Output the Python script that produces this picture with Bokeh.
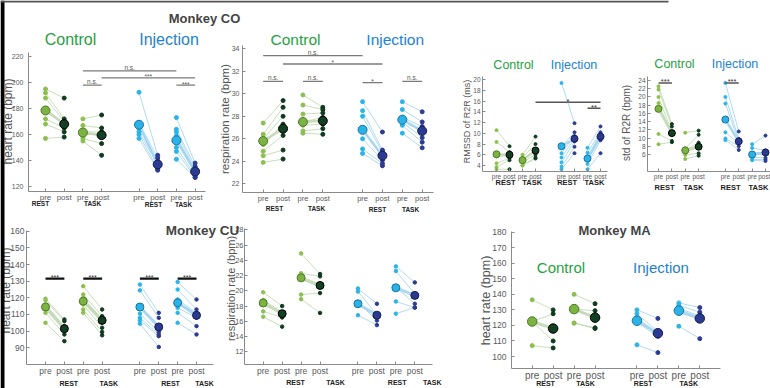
import numpy as np
from bokeh.plotting import figure
from bokeh.models import Range1d, FixedTicker, ColumnDataSource, Label, BoxAnnotation
from bokeh.layouts import column
from bokeh.embed import file_html
from bokeh.resources import INLINE

# ---------------- DATA ----------------
tick_labels = ["pre", "post", "pre", "post", "pre", "post", "pre", "post"]
block_labels = ["REST", "TASK", "REST", "TASK"]
group_labels = ["Control", "Injection"]
titles = ["Monkey CO", "Monkey CU", "Monkey MA"]

# Monkey CO - heart rate (bpm)
co_hr_ctrl_rest_pre = [195, 192, 188, 180, 172, 168, 157]
co_hr_ctrl_rest_post = [188, 172, 170, 168, 165, 162, 158]
co_hr_ctrl_task_pre = [172, 167, 162, 160, 157, 155]
co_hr_ctrl_task_post = [175, 165, 162, 160, 153, 144]
co_hr_inj_rest_pre = [192.5, 169, 165, 162, 160, 157]
co_hr_inj_rest_post = [144, 142, 139.5, 137, 133.5, 132.5]
co_hr_inj_task_pre = [173, 164, 162, 159, 157.5, 150, 147, 141]
co_hr_inj_task_post = [138, 135.5, 133, 131.5, 130, 128.5, 127, 127]
co_hr_means = [178.5, 168, 161.5, 159.5, 167.5, 137, 155.5, 131.5]
co_hr_yticks = [120, 140, 160, 180, 200, 220]
co_hr_sig = [(3, 8, 209, "n.s."), (4, 9, 203.5, "***"), (3, 4, 198, "n.s."), (8, 9, 198, "***")]

# Monkey CO - respiration rate (bpm)
co_rr_ctrl_rest_pre = [27.4, 26.4, 26.0, 25.5, 24.9, 24.5, 23.9]
co_rr_ctrl_rest_post = [29.4, 28.8, 28.0, 27.3, 26.3, 25.0, 24.2]
co_rr_ctrl_task_pre = [29.9, 29.0, 28.2, 27.5, 27.2, 26.7, 26.5]
co_rr_ctrl_task_post = [28.8, 28.6, 28.3, 27.9, 27.3, 26.9, 26.4]
co_rr_inj_rest_pre = [29.3, 28.5, 28.0, 26.8, 26.0, 25.1, 24.7]
co_rr_inj_rest_post = [26.6, 25.0, 24.8, 24.5, 24.1, 23.8, 23.6]
co_rr_inj_task_pre = [29.3, 28.6, 27.9, 27.7, 27.5, 27.2, 26.5]
co_rr_inj_task_post = [28.4, 27.5, 27.1, 26.6, 26.1, 25.7, 25.2]
co_rr_means = [25.8, 26.9, 27.5, 27.6, 26.8, 24.5, 27.7, 26.7]
co_rr_yticks = [22, 24, 26, 28, 30, 32, 34]
co_rr_sig = [(1, 6, 33.4, "n.s."), (2, 7, 32.65, "*"), (1, 2, 31.1, "n.s."),
             (3, 4, 31.1, "n.s."), (6, 7, 31.0, "*"), (8, 9, 31.1, "n.s.")]

# Monkey CO - RMSSD of R2R (ms)
co_rmssd_ctrl_rest_pre = [10.6, 8.4, 5.7, 4.4, 3.7, 3.3]
co_rmssd_ctrl_rest_post = [7.6, 6.5, 5.8, 5.4, 5.0, 3.3]
co_rmssd_ctrl_task_pre = [6.0, 5.5, 5.0, 4.6, 4.0, 4.0]
co_rmssd_ctrl_task_post = [9.4, 8.0, 7.0, 6.0, 5.5, 5.3]
co_rmssd_inj_rest_pre = [19.4, 7.5, 6.3, 5.5, 4.6, 3.8, 3.3]
co_rmssd_inj_rest_post = [11.9, 10.2, 9.5, 9.0, 8.5, 7.5, 6.3]
co_rmssd_inj_task_pre = [7.3, 6.4, 5.7, 5.0, 4.3, 3.3]
co_rmssd_inj_task_post = [11.3, 10.2, 9.8, 9.3, 8.7, 6.3]
co_rmssd_means = [6.1, 6.0, 5.0, 6.8, 7.6, 9.0, 5.3, 9.4]
co_rmssd_yticks = [4, 6, 8, 10, 12, 14, 16, 18, 20]
co_rmssd_sig = [(4, 9, 15.8, "*"), (8, 9, 14.7, "**")]

# Monkey CO - std of R2R (bpm)
co_std_ctrl_rest_pre = [22.6, 21.8, 20.0, 18.5, 11.0, 8.5]
co_std_ctrl_rest_post = [13.4, 12.8, 11.5, 10.8, 9.3, 9.0]
co_std_ctrl_task_pre = [11.3, 7.5, 7.0, 6.5, 5.9, 4.9]
co_std_ctrl_task_post = [11.8, 10.8, 8.9, 7.9, 6.3, 5.7]
co_std_inj_rest_pre = [23.4, 20.0, 18.4, 14.4, 11.4, 9.9, 9.5]
co_std_inj_rest_post = [11.6, 9.8, 9.2, 9.0, 8.7, 8.0, 7.1]
co_std_inj_task_pre = [8.5, 7.6, 6.4, 6.0, 5.3, 4.8, 4.6]
co_std_inj_task_post = [10.6, 7.0, 6.5, 6.0, 5.2, 4.8, 4.4]
co_std_means = [17.1, 11.2, 7.0, 7.9, 14.5, 9.2, 6.0, 6.5]
co_std_yticks = [6, 8, 10, 12, 14, 16, 18, 20, 22, 24]
co_std_sig = [(1, 2, 23.4, "***"), (6, 7, 23.4, "***")]

# Monkey CU - heart rate (bpm)
cu_hr_ctrl_rest_pre = [119.5, 118.5, 116, 113, 111, 105]
cu_hr_ctrl_rest_post = [107, 106, 103, 101, 98, 94]
cu_hr_ctrl_task_pre = [127, 122, 120, 118, 116, 113, 111]
cu_hr_ctrl_task_post = [113, 109, 107, 105, 102, 99.5, 97.5]
cu_hr_inj_rest_pre = [128, 124.5, 115, 110.5, 108, 106.5, 104.5]
cu_hr_inj_rest_post = [111, 108, 103, 99.5, 98, 97, 90.5]
cu_hr_inj_task_pre = [129.5, 125, 119, 117, 114, 111, 105]
cu_hr_inj_task_post = [119, 113, 111, 110, 108, 103, 98]
cu_hr_means = [114.5, 101.5, 118, 106.5, 114.5, 102.5, 117, 109.5]
cu_hr_yticks = [90, 100, 110, 120, 130, 140, 150, 160]
cu_hr_sig = [(1, 2, 131.5, "***"), (3, 4, 131.5, "***"), (6, 7, 131.5, "***"), (8, 9, 131.5, "***")]

# Monkey CU - respiration rate (bpm)
cu_rr_ctrl_rest_pre = [19.8, 18.8, 17.3, 16.6]
cu_rr_ctrl_rest_post = [18.0, 17.2, 16.5, 15.3]
cu_rr_ctrl_task_pre = [24.9, 22.3, 21.5, 19.5, 18.9]
cu_rr_ctrl_task_post = [22.2, 21.9, 20.5, 19.7, 17.1]
cu_rr_inj_rest_pre = [20.3, 19.9, 18.5, 16.8]
cu_rr_inj_rest_post = [18.3, 16.9, 16.1, 15.5]
cu_rr_inj_task_pre = [23.2, 22.6, 20.5, 18.6, 17.0]
cu_rr_inj_task_post = [21.1, 19.6, 18.3, 17.8, 17.8]
cu_rr_means = [18.4, 17.0, 21.7, 20.7, 18.3, 16.8, 20.4, 19.4]
cu_rr_yticks = [12, 14, 16, 18, 20, 22, 24, 26, 28]

# Monkey MA - heart rate (bpm)
ma_hr_ctrl_rest_pre = [136.5, 122.5, 122.5, 107]
ma_hr_ctrl_rest_post = [130, 127.5, 110, 105.5]
ma_hr_ctrl_task_pre = [140, 130.5, 130.5, 121.5, 121.5]
ma_hr_ctrl_task_post = [134, 129.5, 125, 118.5, 118]
ma_hr_inj_rest_pre = [130, 127.5, 125, 122, 107.5]
ma_hr_inj_rest_post = [124.5, 116, 114, 113, 102.5]
ma_hr_inj_task_pre = [134.5, 133, 131, 128, 119.5]
ma_hr_inj_task_post = [131.5, 128.5, 126, 124.5, 111.5]
ma_hr_means = [122.5, 118, 130.5, 125, 123, 115, 129.5, 124.5]
ma_hr_yticks = [100, 110, 120, 130, 140, 150, 160, 170, 180]

# ---------------- STYLE / LAYOUT ----------------
W, H = 770, 388
FONT = "Liberation Sans"
SLOTS = [1, 2, 3, 4, 6, 7, 8, 9]
PRE_SLOTS = [1, 3, 6, 8]
DOT = ["#8cbf4c", "#0f3a1f", "#2ab4e8", "#2c3b92"]
BIG_FILL = ["#7cb342", "#133f23", "#2bb3e7", "#2b3b91"]
BIG_EDGE = ["#4a7a25", "#000000", "#17739f", "#141b4f"]
IND_LINE = ["#b3d3a0", "#93cdee"]
MEAN_LINE = ["#bcd3ae", "#9ad0ee"]
GREEN_TXT = "#1fa23f"
BLUE_TXT = "#1c82d3"
TITLE_C = "#444444"
AX_C = "#8a8a8a"
LAB_C = "#555555"

overlay_texts = []  # (text, x, y, size, color, bold, rotated)


def make_panel(box, frame, xcal, ycal, yticks, conds, means, fs, ms,
               sig=(), sig_style=("#7a7a7a", 1.3, "#555555", "6.5px")):
    bx0, by0, bx1, by1 = [int(round(v)) for v in box]
    fx0, fy0, fx1, fy1 = [int(round(v)) for v in frame]

    def xd(rx):
        return xcal[0] + (rx - xcal[1]) * (xcal[2] - xcal[0]) / (xcal[3] - xcal[1])

    def yd(ry):
        return ycal[0] + (ry - ycal[1]) * (ycal[2] - ycal[0]) / (ycal[3] - ycal[1])

    p = figure(width=bx1 - bx0, height=by1 - by0,
               x_range=Range1d(xd(fx0), xd(fx1)), y_range=Range1d(yd(fy1), yd(fy0)),
               min_border_left=fx0 - bx0, min_border_right=bx1 - fx1,
               min_border_top=fy0 - by0, min_border_bottom=by1 - fy1,
               frame_align=False,
               output_backend="svg", toolbar_location=None,
               background_fill_color=None, border_fill_color=None,
               outline_line_color=None)
    p.grid.visible = False
    for ax, ticks in ((p.xaxis[0], SLOTS), (p.yaxis[0], yticks)):
        ax.ticker = FixedTicker(ticks=ticks)
        ax.axis_line_color = AX_C
        ax.major_tick_line_color = AX_C
        ax.major_tick_in = 3
        ax.major_tick_out = 0
        ax.minor_tick_line_color = None
        ax.major_label_text_font = FONT
        ax.major_label_text_color = "#5a5a5a"
    p.xaxis[0].major_label_overrides = {s: t for s, t in zip(SLOTS, tick_labels)}
    p.xaxis[0].major_label_text_font_size = fs["x"]
    p.yaxis[0].major_label_text_font_size = fs["y"]
    p.xaxis[0].major_label_standoff = 1
    p.yaxis[0].major_label_standoff = fs["ys"]

    small, big, mlw = ms
    for k, (pre, post) in enumerate(conds):
        xa, xb = PRE_SLOTS[k], PRE_SLOTS[k] + 1
        g = 0 if k < 2 else 1
        src = ColumnDataSource(dict(xa=[xa] * len(pre), xb=[xb] * len(post), pre=pre, post=post))
        p.segment(x0="xa", y0="pre", x1="xb", y1="post", source=src,
                  line_color=IND_LINE[g], line_width=0.8, line_alpha=0.9)
        p.segment(x0=[xa], y0=[means[2 * k]], x1=[xb], y1=[means[2 * k + 1]],
                  line_color=MEAN_LINE[g], line_width=mlw, line_alpha=0.8)
        p.scatter(x="xa", y="pre", source=src, size=small, color=DOT[2 * g])
        p.scatter(x="xb", y="post", source=src, size=small, color=DOT[2 * g + 1])
        p.scatter(x=[xa, xb], y=[means[2 * k], means[2 * k + 1]], size=big,
                  fill_color=[BIG_FILL[2 * g], BIG_FILL[2 * g + 1]],
                  line_color=[BIG_EDGE[2 * g], BIG_EDGE[2 * g + 1]], line_width=1)

    sc, slw, stc, sfs = sig_style
    for (a, b, y, t) in sig:
        p.segment(x0=[a], y0=[y], x1=[b], y1=[y], line_color=sc, line_width=slw)
        star = "n" not in t
        p.add_layout(Label(x=(a + b) / 2, y=y, text=t, text_align="center",
                           text_baseline="middle" if star else "bottom",
                           y_offset=1 if star else 0, text_font=FONT,
                           text_font_size=sfs, text_color=stc))
    return p, (bx0, by0, by1 - by0)


def add_groups(cx, cy, ix, iy, size):
    overlay_texts.append((group_labels[0], cx, cy, size, GREEN_TXT, False, False))
    overlay_texts.append((group_labels[1], ix, iy, size, BLUE_TXT, False, False))


def add_blocks(xs, ys, size):
    for t, x, y in zip(block_labels, xs, ys):
        overlay_texts.append((t, x, y, size, "#222222", True, False))


panels = []

# A: Monkey CO heart rate
panels.append(make_panel(
    box=(0, 0, 245, 215), frame=(28, 52, 205, 191), xcal=(1, 45, 9, 194.6), ycal=(120, 186, 220, 56),
    yticks=co_hr_yticks,
    conds=[(co_hr_ctrl_rest_pre, co_hr_ctrl_rest_post), (co_hr_ctrl_task_pre, co_hr_ctrl_task_post),
           (co_hr_inj_rest_pre, co_hr_inj_rest_post), (co_hr_inj_task_pre, co_hr_inj_task_post)],
    means=co_hr_means, fs={"x": "8px", "y": "7px", "ys": 5}, ms=(4, 9, 2.5), sig=co_hr_sig))
add_groups(70, 39, 168.5, 39, "16px")
overlay_texts.append((titles[0], 204, 17.5, "13px", TITLE_C, True, False))
overlay_texts.append(("heart rate (bpm)", 7.5, 121, "12px", LAB_C, False, True))
add_blocks([40, 92, 153, 183], [203, 203, 204, 204], "6.5px")

# B: Monkey CO respiration
panels.append(make_panel(
    box=(215, 0, 452, 218), frame=(241.7, 45, 433, 192), xcal=(1, 262.7, 9, 421.7), ycal=(22, 183.3, 34, 48.3),
    yticks=co_rr_yticks,
    conds=[(co_rr_ctrl_rest_pre, co_rr_ctrl_rest_post), (co_rr_ctrl_task_pre, co_rr_ctrl_task_post),
           (co_rr_inj_rest_pre, co_rr_inj_rest_post), (co_rr_inj_task_pre, co_rr_inj_task_post)],
    means=co_rr_means, fs={"x": "7.5px", "y": "7px", "ys": 3}, ms=(4, 9, 2.5), sig=co_rr_sig))
add_groups(295, 39, 394.7, 39, "15.5px")
overlay_texts.append(("respiration rate (bpm)", 224.5, 118.5, "11.5px", LAB_C, False, True))
add_blocks([274, 316, 377, 410], [207.5, 207.5, 209, 209], "6.5px")

# C: RMSSD
panels.append(make_panel(
    box=(448, 45, 617, 200), frame=(481.7, 76, 606.7, 170.7), xcal=(1, 496, 9, 600), ycal=(4, 165, 20, 79.3),
    yticks=co_rmssd_yticks,
    conds=[(co_rmssd_ctrl_rest_pre, co_rmssd_ctrl_rest_post), (co_rmssd_ctrl_task_pre, co_rmssd_ctrl_task_post),
           (co_rmssd_inj_rest_pre, co_rmssd_inj_rest_post), (co_rmssd_inj_task_pre, co_rmssd_inj_task_post)],
    means=co_rmssd_means, fs={"x": "6.5px", "y": "6.5px", "ys": 2}, ms=(3, 7, 2.5), sig=co_rmssd_sig,
    sig_style=("#555555", 1.5, "#333333", "7.5px")))
add_groups(513, 64, 573.5, 64, "12.5px")
overlay_texts.append(("RMSSD of R2R (ms)", 466, 121, "9px", LAB_C, False, True))
add_blocks([505, 531.7, 566.7, 594], [181.7] * 4, "7.5px")

# D: std of R2R
panels.append(make_panel(
    box=(612, 45, 770, 200), frame=(646.7, 76, 770, 170.7), xcal=(1, 658, 9, 765), ycal=(6, 154, 24, 80),
    yticks=co_std_yticks,
    conds=[(co_std_ctrl_rest_pre, co_std_ctrl_rest_post), (co_std_ctrl_task_pre, co_std_ctrl_task_post),
           (co_std_inj_rest_pre, co_std_inj_rest_post), (co_std_inj_task_pre, co_std_inj_task_post)],
    means=co_std_means, fs={"x": "6.5px", "y": "6.5px", "ys": 2}, ms=(3, 7, 2.5), sig=co_std_sig,
    sig_style=("#555555", 1.5, "#333333", "7.5px")))
add_groups(674, 63, 734.5, 63, "12.5px")
overlay_texts.append(("std of R2R (bpm)", 626, 122.5, "10px", LAB_C, False, True))
add_blocks([664, 693, 730, 758], [186.7] * 4, "7.5px")

# E: Monkey CU heart rate
panels.append(make_panel(
    box=(0, 212, 240, 388), frame=(26, 230, 213.3, 364.3), xcal=(1, 45, 9, 196), ycal=(90, 347.3, 160, 230.7),
    yticks=cu_hr_yticks,
    conds=[(cu_hr_ctrl_rest_pre, cu_hr_ctrl_rest_post), (cu_hr_ctrl_task_pre, cu_hr_ctrl_task_post),
           (cu_hr_inj_rest_pre, cu_hr_inj_rest_post), (cu_hr_inj_task_pre, cu_hr_inj_task_post)],
    means=cu_hr_means, fs={"x": "8.5px", "y": "8.5px", "ys": 2}, ms=(3.5, 8, 3), sig=cu_hr_sig,
    sig_style=("#111111", 2.2, "#333333", "7px")))
overlay_texts.append(("heart rate (bpm)", 5, 290, "12px", LAB_C, False, True))
add_blocks([68.3, 108.3, 170, 204], [382.7] * 4, "7px")

# F: Monkey CU respiration
panels.append(make_panel(
    box=(215, 212, 455, 388), frame=(244, 228, 431.7, 364), xcal=(1, 262.7, 9, 414.3), ycal=(12, 351.3, 28, 229.3),
    yticks=cu_rr_yticks,
    conds=[(cu_rr_ctrl_rest_pre, cu_rr_ctrl_rest_post), (cu_rr_ctrl_task_pre, cu_rr_ctrl_task_post),
           (cu_rr_inj_rest_pre, cu_rr_inj_rest_post), (cu_rr_inj_task_pre, cu_rr_inj_task_post)],
    means=cu_rr_means, fs={"x": "8.5px", "y": "7.5px", "ys": 1}, ms=(3.5, 8, 3)))
overlay_texts.append(("respiration rate (bpm)", 230, 288, "11px", LAB_C, False, True))
add_blocks([295, 335, 396.7, 431.7], [381.7] * 4, "7px")
overlay_texts.append((titles[1], 202, 230, "13.5px", TITLE_C, True, False))

# G: Monkey MA heart rate
panels.append(make_panel(
    box=(455, 212, 770, 388), frame=(511, 231, 720, 367.7), xcal=(1, 531.7, 9, 699.3), ycal=(100, 356, 180, 231.7),
    yticks=ma_hr_yticks,
    conds=[(ma_hr_ctrl_rest_pre, ma_hr_ctrl_rest_post), (ma_hr_ctrl_task_pre, ma_hr_ctrl_task_post),
           (ma_hr_inj_rest_pre, ma_hr_inj_rest_post), (ma_hr_inj_task_pre, ma_hr_inj_task_post)],
    means=ma_hr_means, fs={"x": "10px", "y": "8.5px", "ys": 5}, ms=(4, 9.5, 3)))
add_groups(560.5, 266.7, 660.5, 266.7, "15px")
overlay_texts.append((titles[2], 614, 229.5, "13px", TITLE_C, True, False))
overlay_texts.append(("heart rate (bpm)", 485, 300, "12.5px", LAB_C, False, True))
add_blocks([545, 585, 642.7, 688.3], [383.3] * 4, "7px")

# Overlay canvas (page pixel space) for titles, group names, axis titles and block names
ov = figure(width=W, height=H, x_range=Range1d(0, W), y_range=Range1d(H, 0),
            x_axis_location=None, y_axis_location=None, min_border=0, frame_align=False,
            toolbar_location=None, output_backend="svg",
            background_fill_color=None, border_fill_color=None, outline_line_color=None)
ov.grid.visible = False
for (t, x, y, size, color, bold, rot) in overlay_texts:
    ov.add_layout(Label(x=x, y=y, text=t, text_align="center", text_baseline="middle",
                        angle=np.pi / 2 if rot else 0, text_font=FONT, text_font_size=size,
                        text_font_style="bold" if bold else "normal", text_color=color))
ov.add_layout(BoxAnnotation(left=0, right=4, top=0, bottom=H, fill_color="#000000",
                            fill_alpha=1, line_color=None))
ov.add_layout(BoxAnnotation(left=0, right=668, top=0, bottom=2, fill_color="#555555",
                            fill_alpha=1, line_color=None))
panels.append((ov, (0, 0, H)))

children = []
cur = 0
for fig, (x0, y0, h) in panels:
    fig.margin = (y0 - cur, 0, 0, x0)
    cur = y0 + h
    children.append(fig)

layout = column(*children)
open("out.html", "w").write(file_html(layout, INLINE))
